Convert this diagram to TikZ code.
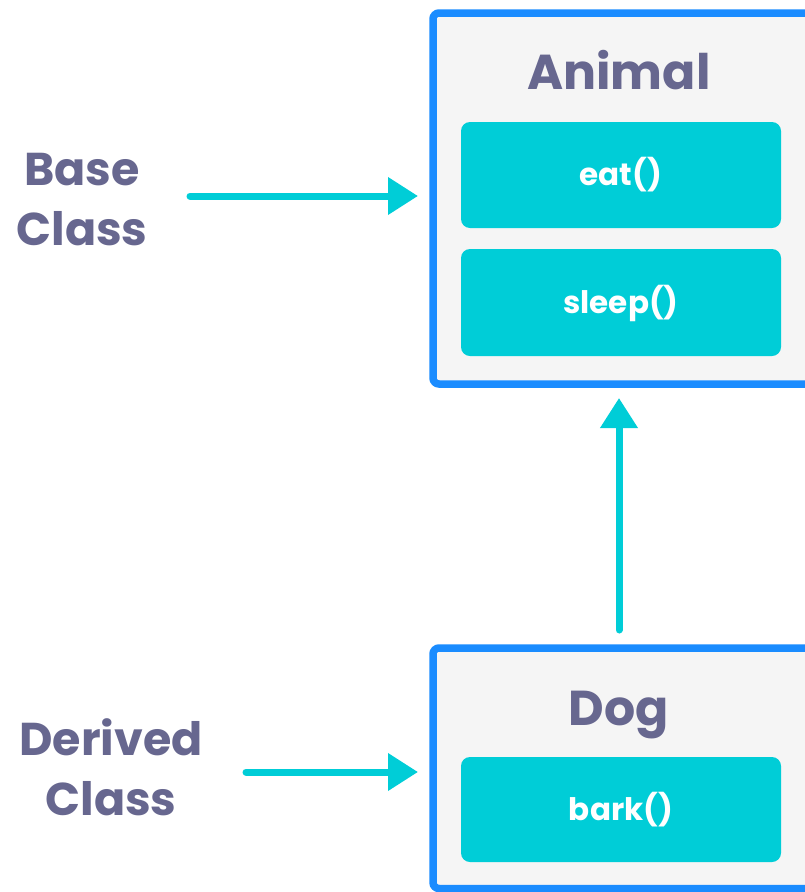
\documentclass[tikz,border=0pt]{standalone}
\usepackage{fontspec}
\setmainfont{Poppins}
\usetikzlibrary{arrows.meta}
\definecolor{bordblue}{HTML}{1A8CFF}
\definecolor{cyanm}{HTML}{00CDD7}
\definecolor{txtp}{HTML}{67678F}
\definecolor{boxfill}{HTML}{F5F5F5}
\tikzset{
  classbox/.style={draw=bordblue, line width=7.5pt, fill=boxfill, rounded corners=6pt},
  methodbox/.style={fill=cyanm, rounded corners=9pt, draw=none},
  methodtxt/.style={text=white, font=\fontsize{31}{36}\selectfont\bfseries, inner sep=0pt},
  titletxt/.style={text=txtp, font=\fontsize{49}{60}\selectfont\bfseries, inner sep=0pt, anchor=base},
  sidetxt/.style={text=txtp, font=\fontsize{46}{60}\selectfont\bfseries, inner sep=0pt, align=center, anchor=base},
  conn/.style={draw=cyanm, line width=7pt, line cap=round, -{Triangle[length=30pt,width=36pt]}}
}
\begin{document}
\begin{tikzpicture}[x=1pt,y=-1pt]
\useasboundingbox (0,0) rectangle (805,892);
\clip (0,0) rectangle (805,892);
% Animal class
\draw[classbox] (433,13) rectangle (815,384);
\node[titletxt] (animal) at (619,89) {Animal};
\fill[methodbox] (461,122) rectangle (781,228);
\node[methodtxt] (eat) at (621,175) {eat()};
\fill[methodbox] (461,249) rectangle (781,356);
\node[methodtxt] (sleep) at (621,303) {sleep()};
\coordinate (animalL) at (418,196);
\coordinate (animalB) at (619,398);
% Dog class
\draw[classbox] (433,648) rectangle (815,888.5);
\node[titletxt] (dog) at (619,725) {Dog};
\fill[methodbox] (461,757) rectangle (781,862);
\node[methodtxt] (bark) at (621,810) {bark()};
\coordinate (dogL) at (418,772);
\coordinate (dogT) at (619,630);
% side labels
\node[sidetxt] (base) at (82,245) {Base\\Class};
\node[sidetxt] (derived) at (111,815) {Derived\\Class};
\coordinate (baseR) at (190,196);
\coordinate (derivedR) at (246,772);
% connectors
\draw[conn] (baseR) -- (animalL);
\draw[conn] (derivedR) -- (dogL);
\draw[conn] (dogT) -- (animalB);
\end{tikzpicture}
\end{document}
